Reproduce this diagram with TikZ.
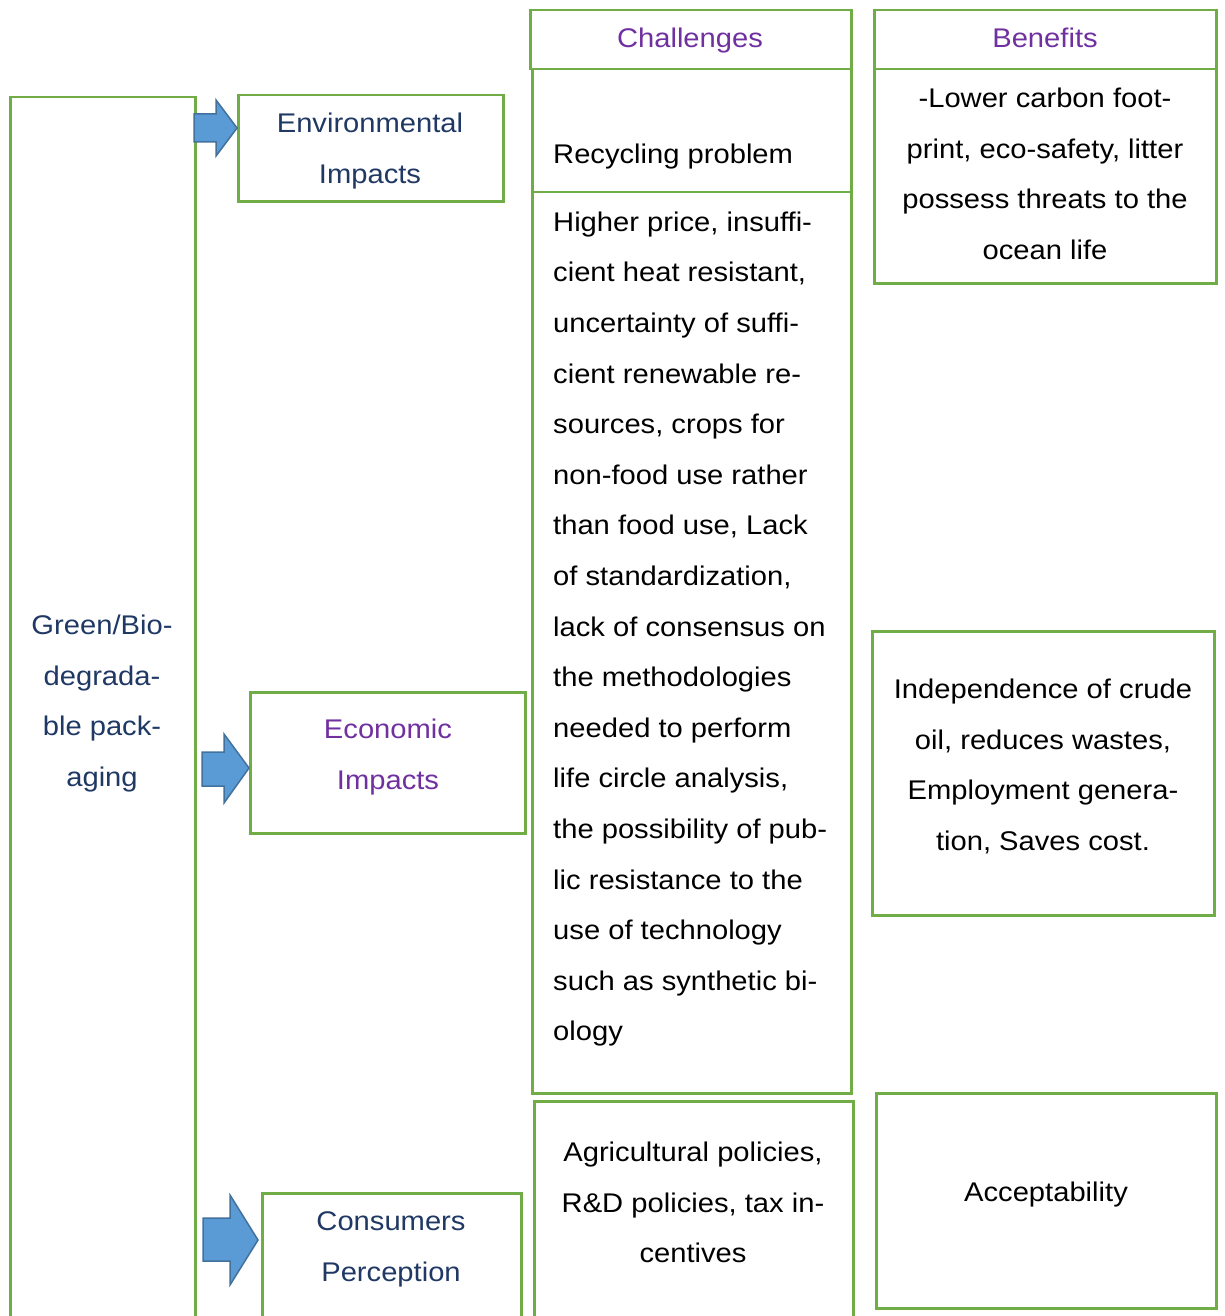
\documentclass[tikz,border=0pt]{standalone}
\usepackage{fontspec}
\setmainfont{Liberation Sans}[FakeStretch=1.08]
\definecolor{bgreen}{HTML}{70AD47}
\definecolor{navy}{HTML}{1F3864}
\definecolor{purp}{HTML}{7030A0}
\definecolor{afill}{HTML}{5B9BD5}
\definecolor{aline}{HTML}{41719C}
\tikzset{
  box/.style={draw=bgreen, line width=2.5pt, inner sep=0pt, anchor=north west, xshift=-1pt, yshift=1pt},
  txt/.style={inner sep=0pt, font=\fontsize{27}{50.6}\selectfont},
  blockarrow/.style={fill=afill, draw=aline, line width=1.5pt, line join=miter},
}
\begin{document}
\begin{tikzpicture}[x=1pt, y=-1pt]
\useasboundingbox (0,0) rectangle (1225,1316);
% left tall box (open at bottom)
\node[box, minimum width=185pt, minimum height=1240pt] (main) at (10,97) {};
% impact boxes
\node[box, minimum width=265pt, minimum height=106pt] (env) at (238,95) {};
\node[box, minimum width=275pt, minimum height=141pt] (eco) at (250,692) {};
\node[box, minimum width=259pt, minimum height=140pt] (con) at (262,1193) {};
% challenges column
\node[box, minimum width=321pt, minimum height=59pt] (chh) at (530,10) {};
\node[box, minimum width=319pt, minimum height=123pt] (ch1) at (532,69) {};
\node[box, minimum width=319pt, minimum height=901pt] (ch2) at (532,192) {};
\node[box, minimum width=319pt, minimum height=230pt] (ch3) at (534,1101) {};
% benefits column
\node[box, minimum width=342pt, minimum height=59pt] (beh) at (874,10) {};
\node[box, minimum width=342pt, minimum height=214pt] (be1) at (874,69) {};
\node[box, minimum width=342pt, minimum height=284pt] (be2) at (872,631) {};
\node[box, minimum width=340pt, minimum height=215pt] (be3) at (876,1093) {};
% block arrows
\draw[blockarrow] (194,114) -- (216,114) -- (216,100) -- (237,128) -- (216,156) -- (216,142) -- (194,142) -- cycle;
\draw[blockarrow] (202,752) -- (224,752) -- (224,734) -- (249,768) -- (224,803) -- (224,786) -- (202,786) -- cycle;
\draw[blockarrow] (203,1218) -- (230,1218) -- (230,1195) -- (258,1240) -- (230,1285) -- (230,1261) -- (203,1261) -- cycle;
% texts
\node[txt, text=navy, align=center, anchor=north] (tmain) at (102,599.1) {\strut Green/Bio-\\degrada-\\ble pack-\\aging};
\node[txt, text=navy, align=center, anchor=north] (tenv) at (370,97.1) {\strut Environmental\\Impacts};
\node[txt, text=purp, align=center, anchor=north] (teco) at (388,703.1) {\strut Economic\\Impacts};
\node[txt, text=navy, align=center, anchor=north] (tcon) at (391,1195.1) {\strut Consumers\\Perception};
\node[txt, text=purp, anchor=base] (tchh) at (690,48) {Challenges};
\node[txt, text=purp, anchor=base] (tbeh) at (1045,48) {Benefits};
\node[txt, anchor=base west] (tch1) at (553,163.5) {Recycling problem};
\node[txt, align=left, anchor=north west] (tch2) at (553,195.6) {\strut Higher price, insuffi-\\cient heat resistant,\\uncertainty of suffi-\\cient renewable re-\\sources, crops for\\non-food use rather\\than food use, Lack\\of standardization,\\lack of consensus on\\the methodologies\\needed to perform\\life circle analysis,\\the possibility of pub-\\lic resistance to the\\use of technology\\such as synthetic bi-\\ology};
\node[txt, align=center, anchor=north] (tch3) at (693,1126.1) {\strut Agricultural policies,\\R\&D policies, tax in-\\centives};
\node[txt, align=center, anchor=north] (tbe1) at (1045,72.1) {\strut -Lower carbon foot-\\print, eco-safety, litter\\possess threats to the\\ocean life};
\node[txt, align=center, anchor=north] (tbe2) at (1043,663.1) {\strut Independence of crude\\oil, reduces wastes,\\Employment genera-\\tion, Saves cost.};
\node[txt, anchor=base] (tbe3) at (1046,1201.5) {Acceptability};
\end{tikzpicture}
\end{document}
